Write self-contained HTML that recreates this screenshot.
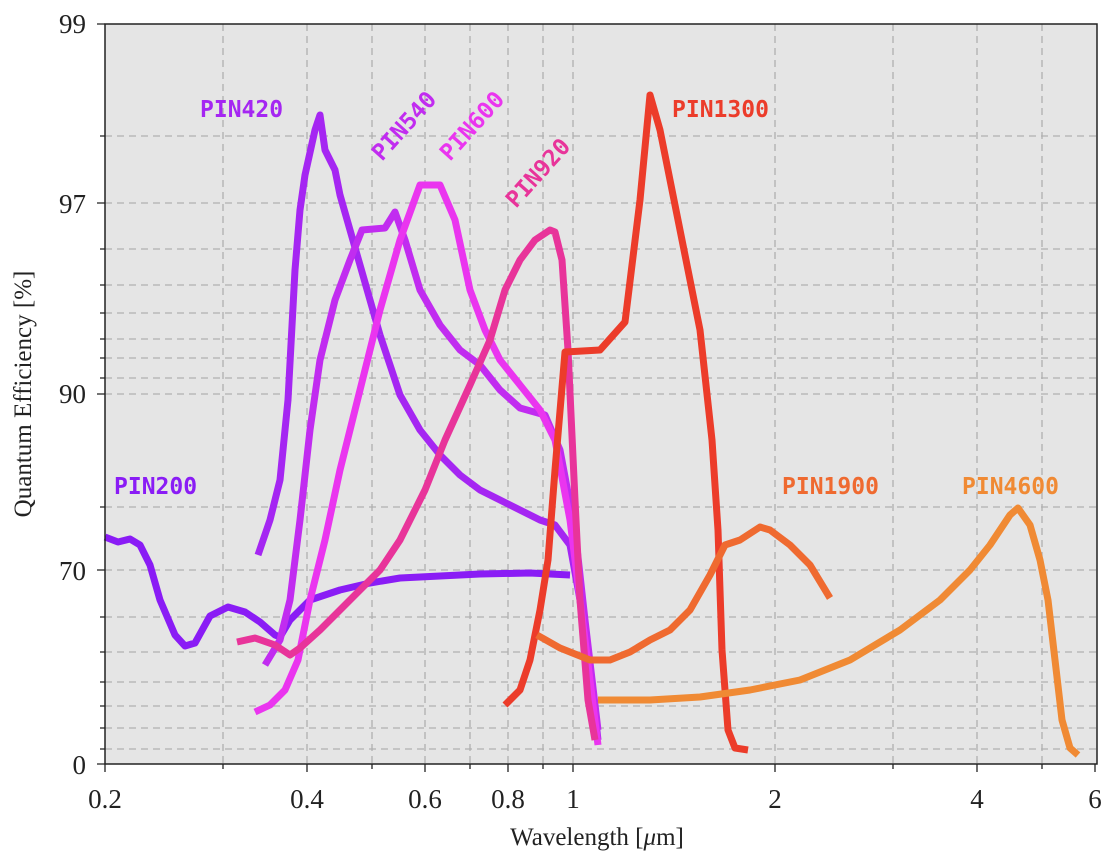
<!DOCTYPE html>
<html><head><meta charset="utf-8"><style>
html,body{margin:0;padding:0;background:#fff;}
svg{display:block;}
.t{font-family:"Liberation Serif","DejaVu Serif",serif;font-size:27px;fill:#222;}
.a{font-family:"Liberation Serif","DejaVu Serif",serif;font-size:25px;fill:#222;}
.l{font-family:"DejaVu Sans Mono","Liberation Mono",monospace;font-weight:bold;font-size:23px;}
.c{fill:none;stroke-width:7;stroke-linejoin:round;stroke-linecap:butt;}
</style></head><body>
<svg width="1116" height="862" viewBox="0 0 1116 862">
<rect x="105" y="24" width="992" height="740" fill="#e5e5e5"/>
<g stroke="#b0b0b0" stroke-width="1.3" stroke-dasharray="7,5">
<path d="M105 136H1097M105 203H1097M105 249H1097M105 285H1097M105 313H1097M105 339H1097M105 358H1097M105 378H1097M105 394H1097M105 507H1097M105 570H1097M105 617H1097M105 652H1097M105 682H1097M105 706H1097M105 728H1097M105 749H1097"/>
<path d="M223 24V764M307 24V764M372 24V764M425 24V764M470 24V764M508 24V764M543 24V764M573 24V764M775 24V764M893 24V764M977 24V764M1042 24V764"/>
</g>
<g class="c">
<polyline stroke="#8a1cf5" points="105,537 118,542 130,539 140,545 150,565 160,600 175,635 185,646 195,643 210,616 228,607 245,612 260,622 275,635 280,637 290,620 310,600 340,590 370,583 400,578 440,576 480,574 530,573 570,575"/>
<polyline stroke="#a526f2" points="258,555 270,520 280,480 288,400 295,270 300,210 305,175 315,130 320,115 325,150 330,160 335,170 340,195 350,230 360,265 370,300 380,335 390,365 400,395 420,430 440,455 460,475 480,490 500,500 520,510 540,520 555,525 570,545 580,600 590,670 598,740"/>
<polyline stroke="#c12cf0" points="265,665 280,640 290,600 300,520 310,430 320,360 335,300 350,260 362,230 385,228 395,212 405,240 420,290 440,325 460,350 480,365 500,390 520,408 545,415 560,450 575,530 585,620 598,730"/>
<polyline stroke="#ea35ef" points="255,712 270,705 285,690 298,660 310,600 325,540 340,470 360,390 380,310 400,240 420,185 440,185 455,220 470,290 485,330 500,360 520,385 540,410 555,440 570,520 585,640 598,745"/>
<polyline stroke="#e8349a" points="237,642 255,638 275,645 290,655 300,648 320,630 350,600 380,570 400,540 425,490 445,440 470,385 490,340 505,290 520,260 535,240 550,230 555,232 562,260 568,350 575,500 580,600 588,700 595,740"/>
<polyline stroke="#ec3c2a" points="505,705 520,690 530,660 540,610 548,560 555,470 565,352 600,350 625,322 640,200 650,95 660,130 680,230 700,330 712,440 718,530 722,650 728,730 735,748 748,750"/>
<polyline stroke="#ef6a30" points="537,635 560,648 590,660 610,660 630,652 650,640 670,630 690,610 710,575 725,545 740,540 760,527 770,530 790,545 810,565 830,598"/>
<polyline stroke="#f08a34" points="598,700 650,700 700,697 750,690 800,680 850,660 900,630 940,600 970,570 990,545 1000,530 1010,515 1018,508 1030,525 1040,560 1048,600 1055,660 1062,720 1070,748 1078,755"/>
</g>
<text class="l" x="114" y="494" fill="#8a1cf5">PIN200</text>
<text class="l" x="200" y="117" fill="#a526f2">PIN420</text>
<text class="l" x="382" y="162" fill="#c12cf0" transform="rotate(-48 382 162)">PIN540</text>
<text class="l" x="450" y="162" fill="#ea35ef" transform="rotate(-48 450 162)">PIN600</text>
<text class="l" x="516" y="209" fill="#e8349a" transform="rotate(-48 516 209)">PIN920</text>
<text class="l" x="672" y="117" fill="#ec3c2a">PIN1300</text>
<text class="l" x="782" y="494" fill="#ef6a30">PIN1900</text>
<text class="l" x="962" y="494" fill="#f08a34">PIN4600</text>
<rect x="105" y="24" width="992" height="740" fill="none" stroke="#222" stroke-width="1.5"/>
<g stroke="#222" stroke-width="1.3">
<path d="M97 24H105M97 203H105M97 394H105M97 570H105M97 764H105"/>
<path d="M100 136H105M100 249H105M100 285H105M100 313H105M100 339H105M100 358H105M100 378H105M100 507H105M100 617H105M100 652H105M100 682H105M100 706H105M100 728H105M100 749H105"/>
<path d="M105 764V772M307 764V772M425 764V772M508 764V772M573 764V772M775 764V772M977 764V772M1095 764V772"/>
<path d="M223 764V769M372 764V769M470 764V769M543 764V769M893 764V769M1042 764V769"/>
</g>
<g class="t" text-anchor="end">
<text x="86" y="33">99</text><text x="86" y="213">97</text><text x="86" y="403">90</text><text x="86" y="580">70</text><text x="86" y="774">0</text>
</g>
<g class="t" text-anchor="middle">
<text x="105" y="808">0.2</text><text x="307" y="808">0.4</text><text x="425" y="808">0.6</text><text x="508" y="808">0.8</text><text x="573" y="808">1</text><text x="775" y="808">2</text><text x="977" y="808">4</text><text x="1095" y="808">6</text>
</g>
<g class="a" text-anchor="middle">
<text x="597" y="845">Wavelength [<tspan font-style="italic">μ</tspan>m]</text>
<text x="31" y="394" transform="rotate(-90 31 394)">Quantum Efficiency [%]</text>
</g>
</svg>
</body></html>
